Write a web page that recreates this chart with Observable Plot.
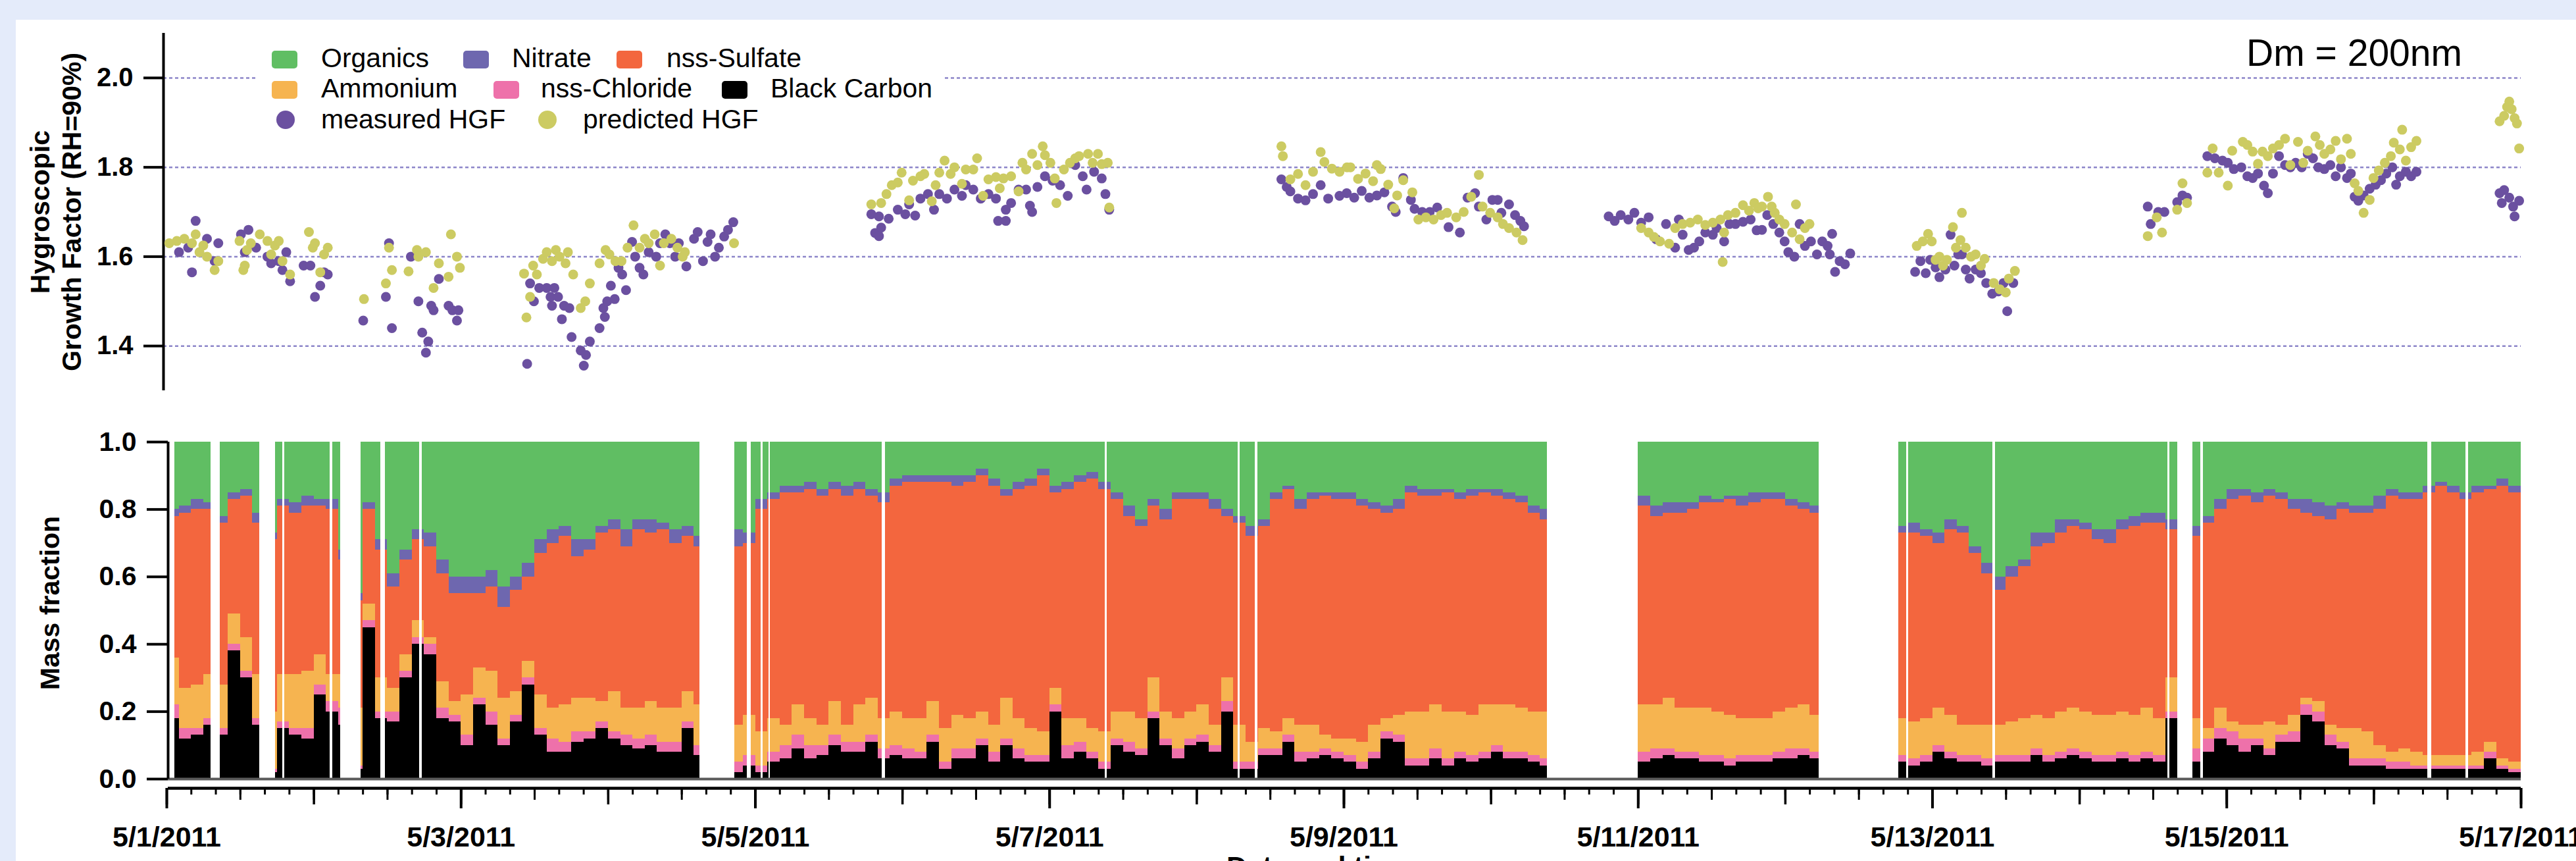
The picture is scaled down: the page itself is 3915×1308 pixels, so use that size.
<!DOCTYPE html>
<html>
<head>
<meta charset="utf-8">
<script src="https://cdn.jsdelivr.net/npm/d3@7"></script>
<script src="https://cdn.jsdelivr.net/npm/@observablehq/plot@0.6"></script>
<style>
  html, body { margin:0; padding:0; width:3915px; height:1308px; overflow:hidden; background:#E4EBFA; }
  #panel { position:absolute; left:24px; top:30px; width:3891px; height:1278px; background:#ffffff; }
  #top, #bottom, #overlay { position:absolute; left:0; }
  #top { top:0; }
  #bottom { top:640px; }
  #overlay { top:0; pointer-events:none; }
</style>
</head>
<body>
<div id="panel"></div>
<div id="top"></div>
<div id="bottom"></div>
<div id="overlay"></div>
<script>
// ---------------- DATA ----------------
// Mass fractions, one value per 2-hour slot starting 5/1/2011 00:00 (12 slots per day, null = no data)
const blackCarbon = [
 .18,.12,.13,.16,.13,.38,.30,.16,.02,.15,.13,.12,
 .25,.20,.16,.03,.45,.18,.17,.30,.40,.37,.18,.17,
 .10,.22,.16,.10,.17,.28,.13,.08,.08,.11,.12,.15,
 .12,.10,.09,.10,.08,.08,.15,.07,null,null,.02,.04,
 .02,.05,.06,.09,.06,.07,.10,.08,.08,.11,.06,.07,
 .06,.06,.11,.03,.06,.06,.10,.05,.10,.06,.05,.05,
 .20,.06,.08,.06,.03,.10,.08,.07,.18,.10,.06,.10,
 .11,.08,.20,.03,.03,.07,.07,.11,.05,.06,.07,.06,
 .05,.03,.06,.12,.11,.04,.04,.06,.04,.06,.05,.06,
 .08,.06,.06,.05,.04,null,null,null,null,null,null,null,
 .05,.06,.07,.06,.06,.05,.05,.04,.05,.05,.05,.06,
 .06,.07,.06,null,null,null,null,null,null,.05,.04,.05,
 .08,.06,.05,.05,.04,.05,.05,.05,.07,.05,.06,.07,
 .06,.05,.05,.06,.05,.06,.05,.18,null,.05,.08,.12,
 .10,.08,.10,.07,.11,.11,.19,.17,.10,.09,.04,.04,
 .04,.03,.03,.03,.03,.03,.03,.03,.03,.06,.03,.02
];
const nssChloride = [
 .04,.03,.02,.02,.02,.02,.02,.02,.01,.02,.02,.03,
 .03,.03,.05,.01,.02,.02,.03,.02,.02,.03,.03,.02,
 .03,.02,.04,.02,.02,.02,.02,.04,.03,.03,.02,.02,
 .02,.03,.03,.03,.03,.03,.02,.03,null,null,.03,.03,
 .02,.03,.04,.04,.04,.03,.03,.03,.03,.02,.03,.03,
 .03,.02,.02,.02,.03,.03,.02,.03,.02,.03,.02,.02,
 .02,.04,.03,.02,.02,.02,.03,.02,.02,.02,.03,.02,
 .02,.02,.03,.02,.02,.02,.02,.02,.03,.02,.02,.02,
 .02,.02,.02,.02,.02,.02,.02,.03,.02,.02,.02,.02,
 .02,.02,.02,.02,.02,null,null,null,null,null,null,null,
 .03,.03,.02,.02,.02,.02,.02,.02,.02,.02,.02,.02,
 .03,.02,.02,null,null,null,null,null,null,.02,.02,.02,
 .02,.02,.02,.02,.02,.02,.02,.02,.02,.02,.02,.02,
 .02,.02,.02,.02,.02,.02,.02,.02,null,.04,.04,.03,
 .04,.04,.02,.02,.02,.03,.03,.03,.03,.02,.02,.02,
 .02,.02,.02,.01,.01,.01,.01,.01,.01,.02,.01,.01
];
const ammonium = [
 .14,.12,.13,.13,.13,.09,.10,.13,.17,.14,.16,.17,
 .09,.08,.10,.17,.05,.10,.07,.05,.05,.02,.08,.04,
 .12,.09,.12,.12,.07,.05,.10,.09,.11,.10,.10,.06,
 .12,.08,.09,.10,.10,.10,.09,.12,null,null,.11,.12,
 .10,.10,.06,.09,.08,.06,.10,.05,.11,.11,.09,.10,
 .09,.10,.10,.10,.10,.09,.08,.08,.12,.09,.08,.07,
 .05,.08,.07,.07,.09,.08,.09,.09,.10,.08,.09,.08,
 .09,.06,.07,.11,.06,.06,.05,.05,.08,.08,.04,.04,
 .05,.06,.08,.04,.06,.14,.14,.13,.14,.12,.12,.14,
 .12,.14,.13,.13,.14,null,null,null,null,null,null,null,
 .14,.13,.15,.13,.13,.14,.13,.13,.11,.11,.11,.12,
 .12,.13,.11,null,null,null,null,null,null,.11,.11,.11,
 .11,.11,.09,.09,.10,.09,.10,.11,.10,.11,.12,.12,
 .12,.12,.12,.12,.12,.13,.11,.10,null,.09,.03,.06,
 .03,.04,.04,.08,.03,.05,.02,.03,.03,.04,.09,.08,
 .04,.03,.04,.04,.03,.03,.03,.03,.04,.03,.02,.02
];
const nssSulfate = [
 .42,.52,.52,.49,.48,.34,.42,.45,.51,.50,.48,.49,
 .44,.49,.34,.32,.28,.38,.30,.28,.24,.27,.32,.32,
 .30,.22,.25,.27,.30,.25,.42,.49,.50,.42,.44,.50,
 .48,.48,.53,.50,.53,.49,.46,.47,null,null,.53,.51,
 .66,.65,.69,.63,.68,.68,.63,.68,.64,.60,.64,.67,
 .70,.70,.65,.73,.68,.70,.70,.71,.60,.68,.72,.76,
 .58,.68,.70,.74,.72,.63,.58,.57,.51,.57,.65,.63,
 .61,.64,.48,.60,.61,.60,.69,.68,.64,.67,.71,.71,
 .71,.70,.64,.61,.61,.65,.64,.62,.65,.63,.65,.63,
 .62,.61,.61,.59,.57,null,null,null,null,null,null,null,
 .59,.56,.55,.58,.59,.61,.62,.64,.63,.64,.65,.63,
 .60,.58,.60,null,null,null,null,null,null,.55,.56,.54,
 .49,.55,.57,.51,.45,.40,.43,.45,.50,.52,.53,.54,
 .54,.52,.51,.54,.56,.55,.58,.44,null,.54,.61,.59,
 .66,.68,.66,.67,.67,.61,.55,.55,.61,.65,.64,.65,
 .70,.76,.74,.75,.78,.80,.78,.76,.77,.75,.81,.80
];
const nitrate = [
 .02,.02,.03,.02,.02,.02,.02,.03,.02,.02,.03,.03,
 .02,.03,.03,.02,.02,.03,.04,.03,.03,.04,.04,.05,
 .05,.05,.05,.06,.04,.04,.04,.04,.03,.05,.03,.02,
 .03,.05,.03,.04,.02,.04,.03,.03,null,null,.05,.03,
 .03,.02,.02,.02,.02,.02,.02,.03,.02,.02,.03,.02,
 .02,.02,.02,.02,.03,.02,.02,.02,.02,.02,.02,.02,
 .02,.02,.02,.02,.02,.02,.03,.02,.02,.03,.02,.02,
 .02,.03,.02,.02,.03,.02,.02,.01,.03,.02,.01,.02,
 .02,.02,.02,.02,.03,.02,.02,.02,.01,.02,.02,.01,
 .02,.02,.02,.02,.03,null,null,null,null,null,null,null,
 .03,.03,.03,.03,.02,.02,.01,.01,.03,.03,.02,.02,
 .02,.02,.02,null,null,null,null,null,null,.02,.03,.02,
 .03,.03,.02,.02,.03,.04,.03,.02,.04,.03,.04,.02,
 .02,.03,.04,.03,.03,.03,.03,.03,null,.03,.02,.03,
 .03,.02,.03,.02,.02,.03,.04,.04,.04,.02,.02,.02,
 .04,.02,.02,.02,.02,.01,.02,.02,.02,.01,.02,.02
];
const organics = [
 .20,.19,.17,.18,.22,.15,.14,.21,.27,.17,.18,.16,
 .17,.17,.32,.45,.18,.29,.39,.32,.26,.27,.35,.40,
 .40,.40,.38,.43,.40,.36,.29,.26,.25,.29,.29,.25,
 .23,.26,.23,.23,.24,.26,.25,.28,null,null,.26,.27,
 .17,.15,.13,.13,.12,.14,.12,.13,.12,.14,.15,.11,
 .10,.10,.10,.10,.10,.10,.08,.11,.14,.12,.11,.08,
 .13,.12,.10,.09,.12,.15,.19,.23,.17,.20,.15,.15,
 .15,.17,.20,.22,.25,.23,.15,.13,.17,.15,.15,.15,
 .15,.17,.18,.19,.17,.13,.14,.14,.14,.15,.14,.14,
 .14,.15,.16,.19,.20,null,null,null,null,null,null,null,
 .16,.19,.18,.18,.18,.16,.17,.16,.16,.15,.15,.15,
 .17,.18,.19,null,null,null,null,null,null,.25,.24,.26,
 .27,.23,.25,.31,.36,.40,.37,.35,.27,.27,.23,.23,
 .24,.26,.26,.23,.22,.21,.21,.23,null,.25,.22,.17,
 .14,.14,.15,.14,.15,.17,.17,.18,.19,.18,.19,.19,
 .16,.14,.15,.15,.13,.12,.13,.15,.13,.13,.11,.13
];
// Periods without composition data (days after 5/1/2011 00:00)
const gapStart = [0, 0.30, 0.63, 0.785, 1.11, 1.18, 1.455, 1.715, 3.62, 3.945, 4.037, 4.093, 4.86, 6.378, 7.278, 7.398, 9.38, 11.23, 11.823, 12.411, 13.597, 13.67, 13.823, 15.367, 15.625];
const gapEnd   = [0.052, 0.36, 0.74, 0.80, 1.125, 1.32, 1.483, 1.736, 3.86, 3.97, 4.05, 4.10, 4.885, 6.392, 7.295, 7.415, 10.0, 11.77, 11.837, 12.428, 13.611, 13.77, 13.84, 15.39, 15.642];

// Hygroscopic growth factor: [days after 5/1/2011 00:00, HGF]
const measuredHGF = [
 [0.083,1.61],[0.145,1.62],[0.171,1.565],[0.196,1.68],[0.273,1.64],[0.325,1.59],[0.350,1.63],
 [0.504,1.65],[0.530,1.61],[0.555,1.66],[0.607,1.62],[0.684,1.60],[0.709,1.585],[0.761,1.59],[0.786,1.57],[0.812,1.61],[0.838,1.545],[0.930,1.58],[0.976,1.58],[1.007,1.51],[1.043,1.535],[1.069,1.565],[1.094,1.56],
 [1.335,1.457],[1.489,1.51],[1.510,1.63],[1.530,1.44],[1.659,1.60],[1.710,1.50],[1.736,1.43],[1.761,1.385],[1.777,1.41],[1.797,1.49],[1.813,1.48],[1.849,1.55],[1.915,1.49],[1.941,1.48],[1.972,1.457],[1.982,1.48],
 [2.449,1.36],[2.469,1.54],[2.495,1.50],[2.531,1.53],[2.582,1.53],[2.608,1.51],[2.618,1.49],[2.634,1.53],[2.659,1.51],[2.685,1.46],[2.700,1.49],[2.736,1.485],[2.751,1.42],[2.813,1.39],[2.834,1.356],[2.849,1.38],[2.875,1.41],[2.941,1.44],[2.967,1.485],[2.977,1.465],[2.993,1.50],[3.018,1.535],[3.044,1.505],[3.070,1.575],[3.095,1.56],[3.121,1.525],[3.162,1.633],[3.183,1.60],[3.213,1.575],[3.239,1.56],[3.275,1.61],[3.326,1.60],[3.352,1.63],[3.388,1.65],[3.419,1.63],[3.455,1.60],[3.480,1.63],[3.531,1.578],[3.583,1.64],[3.608,1.655],[3.644,1.59],[3.675,1.633],[3.696,1.65],[3.726,1.60],[3.752,1.62],[3.788,1.645],[3.814,1.66],[3.850,1.677],
 [4.788,1.695],[4.814,1.653],[4.840,1.646],[4.840,1.69],[4.855,1.665],[4.906,1.685],[4.968,1.705],[5.019,1.695],[5.045,1.717],[5.086,1.692],[5.122,1.73],[5.173,1.74],[5.214,1.705],[5.250,1.74],[5.302,1.73],[5.353,1.75],[5.404,1.736],[5.430,1.76],[5.481,1.75],[5.532,1.73],[5.584,1.74],[5.635,1.73],[5.650,1.68],[5.702,1.68],[5.702,1.705],[5.738,1.72],[5.789,1.75],[5.840,1.75],[5.866,1.714],[5.881,1.70],[5.917,1.756],[5.968,1.78],[6.020,1.77],[6.071,1.76],[6.123,1.736],[6.174,1.805],[6.225,1.78],[6.251,1.75],[6.302,1.79],[6.354,1.775],[6.379,1.74],[6.405,1.705],
 [7.575,1.773],[7.611,1.756],[7.636,1.746],[7.688,1.73],[7.739,1.726],[7.790,1.74],[7.842,1.76],[7.893,1.73],[7.970,1.736],[8.019,1.742],[8.070,1.732],[8.121,1.747],[8.173,1.732],[8.224,1.737],[8.275,1.744],[8.327,1.712],[8.352,1.70],[8.403,1.776],[8.455,1.727],[8.480,1.707],[8.532,1.70],[8.583,1.70],[8.634,1.71],[8.711,1.666],[8.788,1.654],[8.840,1.732],[8.891,1.742],[8.917,1.712],[8.968,1.683],[9.009,1.727],[9.045,1.727],[9.070,1.698],[9.122,1.717],[9.163,1.693],[9.199,1.68],[9.224,1.668],
 [9.799,1.69],[9.840,1.68],[9.881,1.693],[9.933,1.683],[9.974,1.698],[10.020,1.676],[10.071,1.688],[10.122,1.639],[10.189,1.673],[10.251,1.62],[10.276,1.683],[10.302,1.649],[10.343,1.615],[10.379,1.62],[10.415,1.634],[10.456,1.654],[10.507,1.649],[10.533,1.664],[10.584,1.634],[10.620,1.673],[10.661,1.673],[10.712,1.678],[10.764,1.683],[10.805,1.659],[10.841,1.66],[10.877,1.693],[10.918,1.673],[10.959,1.654],[10.995,1.634],[11.020,1.61],[11.061,1.60],[11.097,1.673],[11.133,1.624],[11.174,1.634],[11.215,1.605],[11.251,1.634],[11.287,1.624],[11.302,1.605],[11.318,1.651],[11.338,1.566],[11.369,1.59],[11.405,1.583],[11.441,1.607],
 [11.882,1.566],[11.918,1.59],[11.954,1.563],[11.985,1.593],[12.021,1.576],[12.047,1.554],[12.088,1.571],[12.123,1.649],[12.149,1.58],[12.175,1.605],[12.200,1.605],[12.226,1.571],[12.252,1.551],[12.293,1.571],[12.329,1.563],[12.365,1.541],[12.406,1.517],[12.447,1.522],[12.483,1.541],[12.508,1.478],[12.549,1.541],
 [13.463,1.712],[13.483,1.673],[13.534,1.70],[13.576,1.70],[13.663,1.722],[13.699,1.737],[13.730,1.732],[13.868,1.825],[13.919,1.82],[13.971,1.815],[14.007,1.81],[14.048,1.796],[14.099,1.80],[14.140,1.78],[14.176,1.776],[14.212,1.786],[14.253,1.759],[14.279,1.742],[14.314,1.786],[14.355,1.825],[14.396,1.805],[14.432,1.80],[14.468,1.81],[14.509,1.80],[14.550,1.83],[14.586,1.82],[14.622,1.80],[14.663,1.796],[14.704,1.805],[14.740,1.78],[14.776,1.80],[14.817,1.776],[14.843,1.786],[14.869,1.734],[14.894,1.725],[14.930,1.737],[14.971,1.752],[15.012,1.761],[15.048,1.771],[15.084,1.786],[15.125,1.80],[15.151,1.761],[15.176,1.78],[15.217,1.79],[15.253,1.78],[15.289,1.79],
 [15.854,1.742],[15.869,1.72],[15.885,1.749],[15.920,1.732],[15.946,1.712],[15.956,1.69],[15.987,1.725]
];
const predictedHGF = [
 [0.017,1.63],[0.068,1.635],[0.119,1.64],[0.171,1.63],[0.196,1.65],[0.222,1.61],[0.248,1.625],[0.273,1.60],[0.325,1.57],[0.350,1.59],
 [0.494,1.635],[0.520,1.57],[0.530,1.58],[0.545,1.615],[0.571,1.63],[0.632,1.65],[0.684,1.635],[0.709,1.605],[0.735,1.625],[0.761,1.635],[0.786,1.59],[0.838,1.56],[0.966,1.655],[0.992,1.62],[1.007,1.63],[1.043,1.565],[1.069,1.605],[1.094,1.62],
 [1.340,1.505],[1.489,1.54],[1.510,1.62],[1.530,1.57],[1.643,1.567],[1.700,1.615],[1.710,1.60],[1.761,1.61],[1.813,1.53],[1.849,1.585],[1.915,1.555],[1.931,1.65],[1.972,1.60],[1.992,1.575],
 [2.428,1.562],[2.444,1.464],[2.469,1.51],[2.490,1.58],[2.515,1.56],[2.557,1.595],[2.582,1.61],[2.618,1.59],[2.644,1.615],[2.669,1.60],[2.710,1.585],[2.726,1.61],[2.762,1.56],[2.813,1.485],[2.844,1.50],[2.875,1.54],[2.941,1.585],[2.982,1.615],[3.008,1.605],[3.049,1.59],[3.090,1.59],[3.131,1.62],[3.172,1.67],[3.213,1.62],[3.249,1.64],[3.275,1.63],[3.316,1.65],[3.352,1.58],[3.378,1.63],[3.429,1.64],[3.470,1.62],[3.506,1.60],[3.521,1.61],[3.855,1.63],
 [4.788,1.717],[4.855,1.72],[4.891,1.74],[4.927,1.76],[4.968,1.766],[4.994,1.788],[5.045,1.726],[5.071,1.77],[5.122,1.78],[5.148,1.785],[5.199,1.724],[5.225,1.76],[5.250,1.788],[5.286,1.815],[5.327,1.785],[5.353,1.80],[5.404,1.763],[5.430,1.795],[5.481,1.795],[5.507,1.82],[5.548,1.736],[5.584,1.773],[5.635,1.778],[5.661,1.753],[5.686,1.775],[5.738,1.78],[5.789,1.746],[5.815,1.81],[5.840,1.795],[5.881,1.83],[5.917,1.805],[5.953,1.847],[5.968,1.827],[6.005,1.81],[6.035,1.775],[6.046,1.72],[6.097,1.795],[6.138,1.81],[6.174,1.82],[6.200,1.825],[6.261,1.83],[6.292,1.81],[6.328,1.83],[6.354,1.807],[6.395,1.81],[6.405,1.71],
 [7.575,1.847],[7.585,1.825],[7.636,1.773],[7.688,1.785],[7.739,1.76],[7.790,1.79],[7.842,1.834],[7.867,1.812],[7.918,1.797],[7.970,1.79],[8.021,1.80],[8.044,1.80],[8.096,1.774],[8.147,1.786],[8.198,1.769],[8.224,1.805],[8.250,1.796],[8.301,1.761],[8.342,1.708],[8.362,1.737],[8.403,1.771],[8.465,1.744],[8.506,1.683],[8.557,1.688],[8.609,1.683],[8.660,1.693],[8.701,1.698],[8.763,1.688],[8.814,1.70],[8.865,1.734],[8.917,1.783],[8.942,1.712],[8.994,1.698],[9.045,1.688],[9.081,1.673],[9.122,1.664],[9.173,1.654],[9.214,1.637],
 [10.020,1.664],[10.071,1.654],[10.107,1.644],[10.148,1.634],[10.210,1.629],[10.251,1.664],[10.302,1.673],[10.353,1.676],[10.405,1.683],[10.456,1.671],[10.507,1.676],[10.559,1.683],[10.574,1.588],[10.584,1.654],[10.610,1.693],[10.661,1.698],[10.712,1.715],[10.753,1.703],[10.789,1.72],[10.815,1.708],[10.841,1.712],[10.882,1.734],[10.907,1.712],[10.928,1.698],[10.959,1.683],[10.995,1.673],[11.046,1.654],[11.072,1.717],[11.097,1.639],[11.133,1.664],[11.164,1.673],
 [11.893,1.624],[11.934,1.634],[11.970,1.651],[11.995,1.634],[12.021,1.593],[12.047,1.60],[12.072,1.58],[12.098,1.593],[12.139,1.666],[12.159,1.62],[12.190,1.637],[12.200,1.698],[12.226,1.62],[12.262,1.60],[12.293,1.605],[12.329,1.58],[12.354,1.595],[12.416,1.541],[12.457,1.527],[12.498,1.52],[12.519,1.551],[12.560,1.568],
 [13.463,1.646],[13.524,1.688],[13.560,1.654],[13.663,1.705],[13.699,1.764],[13.730,1.72],[13.868,1.788],[13.904,1.842],[13.945,1.788],[14.007,1.759],[14.037,1.837],[14.109,1.857],[14.140,1.85],[14.176,1.835],[14.212,1.808],[14.243,1.835],[14.279,1.825],[14.314,1.842],[14.355,1.85],[14.396,1.864],[14.432,1.805],[14.484,1.857],[14.520,1.81],[14.550,1.837],[14.602,1.869],[14.632,1.85],[14.663,1.83],[14.704,1.84],[14.740,1.859],[14.776,1.818],[14.817,1.864],[14.843,1.83],[14.869,1.764],[14.894,1.747],[14.930,1.698],[14.971,1.727],[14.997,1.776],[15.033,1.793],[15.074,1.81],[15.115,1.825],[15.135,1.855],[15.176,1.84],[15.192,1.884],[15.217,1.815],[15.253,1.845],[15.289,1.859],
 [15.854,1.903],[15.885,1.915],[15.905,1.935],[15.920,1.947],[15.936,1.93],[15.956,1.91],[15.972,1.898],[15.987,1.842]
];
const hgfTicks = [1.4, 1.6, 1.8, 2.0];
const fractionTicks = [0, 0.2, 0.4, 0.6, 0.8, 1.0];
const speciesNames = ["Black Carbon", "nss-Chloride", "Ammonium", "nss-Sulfate", "Nitrate", "Organics"];
const speciesColors = ["#000000", "#EE71AA", "#F6B450", "#F3663E", "#6E67AF", "#60BE63"];
const speciesValues = [blackCarbon, nssChloride, ammonium, nssSulfate, nitrate, organics];

// ---------------- HELPERS ----------------
const START = Date.UTC(2011, 4, 1);
const DAY_MS = 864e5;
const at = d => new Date(START + d * DAY_MS);
const xDomain = [at(0), at(16)];
const FONT = "'Liberation Sans', Arial, Helvetica, sans-serif";
const fmtDate = d => `${d.getUTCMonth() + 1}/${d.getUTCDate()}/${d.getUTCFullYear()}`;

// stacked rows, in stacking order
const rows = [];
for (let i = 0; i < blackCarbon.length; i++) {
  if (blackCarbon[i] == null) continue;
  const x1 = at(i / 12), x2 = at((i + 1) / 12);
  speciesNames.forEach((name, k) => rows.push({x1, x2, species: name, value: speciesValues[k][i]}));
}
const gaps = gapStart.map((s, i) => ({x1: at(s), x2: at(gapEnd[i])}));

// ---------------- TOP PANEL ----------------
const topPlot = Plot.plot({
  width: 3915, height: 600,
  marginLeft: 248, marginRight: 84, marginTop: 50, marginBottom: 7,
  style: {background: "transparent", fontFamily: FONT, fontSize: "40px", fontWeight: "bold", color: "#000"},
  x: {type: "utc", domain: xDomain, range: [253, 3831], axis: null},
  y: {domain: [1.3, 2.1], axis: null},
  marks: [
    Plot.gridY({ticks: hgfTicks, stroke: "#8d86c9", strokeOpacity: 1, strokeWidth: 2.5, strokeDasharray: "5,4"}),
    Plot.axisY({ticks: hgfTicks, tickSize: 30, tickPadding: 16, strokeWidth: 4, tickFormat: d => d.toFixed(1), label: null, fontSize: 40}),
    Plot.ruleX([xDomain[0]], {y1: 1.3, y2: 2.1, dx: -5, stroke: "#000", strokeWidth: 4}),
    Plot.dot(measuredHGF, {x: d => at(d[0]), y: d => d[1], r: 7.5, fill: "#6B50A0"}),
    Plot.dot(predictedHGF, {x: d => at(d[0]), y: d => d[1], r: 7.5, fill: "#CCCB62"})
  ]
});
document.getElementById("top").append(topPlot);

// ---------------- BOTTOM PANEL ----------------
const t4h = d3.utcHour.every(4).range(xDomain[0], new Date(+xDomain[1] + 1));
const t12h = d3.utcHour.every(12).range(xDomain[0], new Date(+xDomain[1] + 1));
const t1d = d3.utcDay.range(xDomain[0], new Date(+xDomain[1] + 1));
const t2d = d3.utcDay.every(2).range(xDomain[0], new Date(+xDomain[1] + 1));

const bottomPlot = Plot.plot({
  width: 3915, height: 668,
  marginLeft: 255, marginRight: 84, marginTop: 31, marginBottom: 111,
  style: {background: "transparent", fontFamily: FONT, fontSize: "41px", fontWeight: "bold", color: "#000"},
  x: {type: "utc", domain: xDomain, range: [253, 3831]},
  y: {domain: [0, 1], range: [543, 31]},
  color: {domain: speciesNames, range: speciesColors},
  marks: [
    Plot.rectY(rows, {x1: "x1", x2: "x2", y: "value", fill: "species", shapeRendering: "crispEdges"}),
    Plot.rect(gaps, {x1: "x1", x2: "x2", y1: 0, y2: 1.02, fill: "#ffffff", shapeRendering: "crispEdges"}),
    Plot.ruleY([0], {stroke: "#5a5a5a", strokeWidth: 4}),
    Plot.ruleY([0], {dy: 14, stroke: "#000", strokeWidth: 4.5}),
    Plot.axisY({ticks: fractionTicks, tickSize: 32, tickPadding: 16, strokeWidth: 4, tickFormat: d => d.toFixed(1), label: null, fontSize: 41}),
    Plot.ruleX([xDomain[0]], {y1: 0, y2: 1, dx: 2, stroke: "#000", strokeWidth: 4}),
    Plot.axisX({ticks: t4h, tickSize: 10, strokeWidth: 3, tickFormat: () => "", label: null}),
    Plot.axisX({ticks: t12h, tickSize: 18, strokeWidth: 3, tickFormat: () => "", label: null}),
    Plot.axisX({ticks: t1d, tickSize: 25, strokeWidth: 3.5, tickFormat: () => "", label: null}),
    Plot.axisX({ticks: t2d, tickSize: 31, strokeWidth: 4, tickPadding: 27, tickFormat: fmtDate, label: null, fontSize: 43})
  ]
});
document.getElementById("bottom").append(bottomPlot);

// ---------------- TITLES & LEGEND ----------------
const ov = d3.select("#overlay").append("svg")
  .attr("width", 3915).attr("height", 1308)
  .style("font-family", FONT);

function vtext(x, y, s, size) {
  ov.append("text").attr("transform", `translate(${x},${y}) rotate(-90)`)
    .attr("text-anchor", "middle").attr("font-size", size).attr("font-weight", "bold").text(s);
}
vtext(75, 322, "Hygroscopic", 41);
vtext(123, 322, "Growth Factor (RH=90%)", 41);
vtext(90, 916, "Mass fraction", 41);

ov.append("text").attr("x", 2005).attr("y", 1331).attr("text-anchor", "middle")
  .attr("font-size", 43).attr("font-weight", "bold").text("Date and time");

ov.append("text").attr("x", 3742).attr("y", 100).attr("text-anchor", "end")
  .attr("font-size", 57).text("Dm = 200nm");

// legend
ov.append("rect").attr("x", 388).attr("y", 58).attr("width", 1046).attr("height", 152).attr("fill", "#fff");
const legendSwatches = [
  {name: "Organics", sx: 413, tx: 488, row: 0},
  {name: "Nitrate", sx: 704, tx: 778, row: 0},
  {name: "nss-Sulfate", sx: 937, tx: 1013, row: 0},
  {name: "Ammonium", sx: 413, tx: 488, row: 1},
  {name: "nss-Chloride", sx: 750, tx: 822, row: 1},
  {name: "Black Carbon", sx: 1097, tx: 1171, row: 1}
];
const rowSwatchTop = [77, 123], rowBase = [102, 148, 195];
legendSwatches.forEach(d => {
  const c = speciesColors[speciesNames.indexOf(d.name)];
  ov.append("rect").attr("x", d.sx).attr("y", rowSwatchTop[d.row]).attr("width", 39).attr("height", 27)
    .attr("rx", 5).attr("fill", c);
  ov.append("text").attr("x", d.tx).attr("y", rowBase[d.row]).attr("font-size", 41).text(d.name);
});
[{name: "measured HGF", cx: 434, tx: 488, c: "#6B50A0"}, {name: "predicted HGF", cx: 832, tx: 886, c: "#CCCB62"}].forEach(d => {
  ov.append("circle").attr("cx", d.cx).attr("cy", 182).attr("r", 14).attr("fill", d.c);
  ov.append("text").attr("x", d.tx).attr("y", rowBase[2]).attr("font-size", 41).text(d.name);
});
</script>
</body>
</html>
